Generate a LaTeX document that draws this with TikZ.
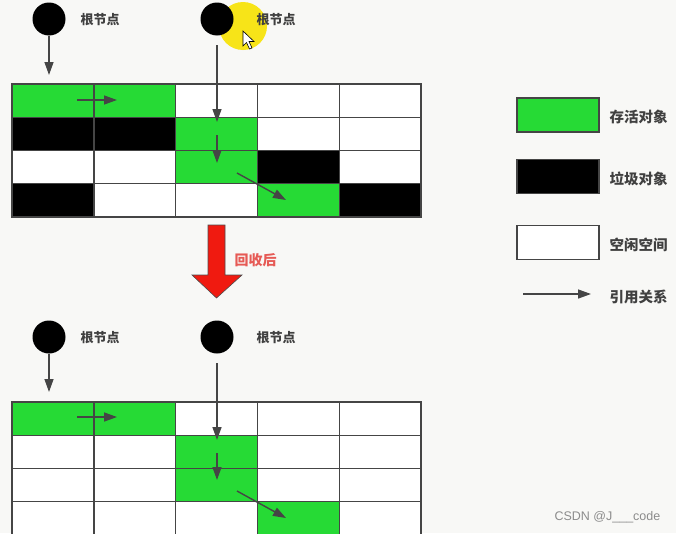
\documentclass[tikz,border=0pt]{standalone}
\usepackage{fontspec}
\newfontfamily\cjk{Noto Sans CJK SC}
\setsansfont{Liberation Sans}
\usetikzlibrary{arrows.meta}
\definecolor{cg}{HTML}{26DA35}
\definecolor{ck}{HTML}{000000}
\definecolor{cw}{HTML}{FFFFFF}
\definecolor{bgc}{HTML}{F8F8F6}
\definecolor{gridc}{HTML}{454545}
\definecolor{txtc}{HTML}{404040}
\definecolor{redc}{HTML}{F01A10}
\definecolor{redtxt}{HTML}{E65A55}
\definecolor{hl}{HTML}{F7E418}
\tikzset{
  cell/.style={draw=gridc, line width=1.4pt, minimum width=81.8pt, minimum height=33.2pt, inner sep=0pt, outer sep=0pt, anchor=north west},
  root/.style={circle, fill=black, minimum size=33pt, inner sep=0pt},
  rootlbl/.style={font=\cjk\bfseries\fontsize{13}{13}\selectfont, text=txtc},
  ref/.style={draw=gridc, line width=1.4pt, -{Triangle[length=13pt,width=9pt]}},
  legbox/.style={draw=gridc, line width=1.4pt, minimum width=82pt, minimum height=34pt, inner sep=0pt},
  leglbl/.style={font=\cjk\bfseries\fontsize{14.5}{14.5}\selectfont, text=txtc, anchor=west},
}
\begin{document}
\begin{tikzpicture}[x=1pt,y=-1pt]
\useasboundingbox (0,0) rectangle (676,533);
\fill[bgc] (0,0) rectangle (676,533);
% highlight
\fill[hl] (243,26) circle (24);
% top grid
\foreach \row [count=\i] in {{g,g,w,w,w},{k,k,g,w,w},{w,w,g,k,w},{k,w,w,g,k}}
  \foreach \c [count=\j] in \row
    \node[cell, fill=c\c] (t\i\j) at ({12+(\j-1)*81.8},{84+(\i-1)*33.2}) {};
% bottom grid
\foreach \row [count=\i] in {{g,g,w,w,w},{w,w,g,w,w},{w,w,g,w,w},{w,w,w,g,w}}
  \foreach \c [count=\j] in \row
    \node[cell, fill=c\c] (b\i\j) at ({12+(\j-1)*81.8},{402+(\i-1)*33.2}) {};
% roots top
\node[root] (r1) at (49,19) {};
\node[rootlbl] (l1) at (100,20) {根节点};
\node[root] (r2) at (217,19) {};
\node[rootlbl] (l2) at (276,20) {根节点};
% cursor
\filldraw[fill=white, draw=black, line width=0.6pt] (243,31) -- (243,46) -- (246.5,42.5) -- (249.5,49) -- (252,48) -- (249,41.5) -- (254,41.5) -- cycle;
% top references
\coordinate (ta1) at (49,75);
\coordinate (ta2s) at (217,45);
\coordinate (ta2) at (217,122);
\coordinate (ta3s) at (77,100);
\coordinate (ta3) at (117,100);
\coordinate (ta4s) at (217,135);
\coordinate (ta4) at (217,163);
\coordinate (ta5s) at (237,173);
\coordinate (ta5) at (286,200);
\draw[ref] (r1) -- (ta1);
\draw[ref] (ta2s) -- (ta2);
\draw[ref] (ta3s) -- (ta3);
\draw[ref] (ta4s) -- (ta4);
\draw[ref] (ta5s) -- (ta5);
% red arrow
\filldraw[fill=redc, draw=black!70, line width=0.6pt]
  (208,225) -- (225,225) -- (225,275) -- (242,275) -- (216.5,298) -- (192,275) -- (208,275) -- cycle;
\node[font=\cjk\bfseries\fontsize{14}{14}\selectfont, text=redtxt, anchor=west] (rc) at (231,260) {回收后};
% roots bottom
\node[root] (r3) at (49,337) {};
\node[rootlbl] (l3) at (100,338) {根节点};
\node[root] (r4) at (217,337) {};
\node[rootlbl] (l4) at (276,338) {根节点};
\coordinate (ba1) at (49,392);
\coordinate (ba2s) at (217,363);
\coordinate (ba2) at (217,440);
\coordinate (ba3s) at (77,417);
\coordinate (ba3) at (117,417);
\coordinate (ba4s) at (217,453);
\coordinate (ba4) at (217,480);
\coordinate (ba5s) at (237,491);
\coordinate (ba5) at (286,518);
\draw[ref] (r3) -- (ba1);
\draw[ref] (ba2s) -- (ba2);
\draw[ref] (ba3s) -- (ba3);
\draw[ref] (ba4s) -- (ba4);
\draw[ref] (ba5s) -- (ba5);
% legend
\node[legbox, fill=cg] (g1) at (558,115) {};
\node[leglbl] (g1t) at (606,117) {存活对象};
\node[legbox, fill=ck] (g2) at (558,176.5) {};
\node[leglbl] (g2t) at (606,179) {垃圾对象};
\node[legbox, fill=cw] (g3) at (558,242.5) {};
\node[leglbl] (g3t) at (606,245) {空闲空间};
\coordinate (g4s) at (523,294);
\coordinate (g4e) at (591,294);
\draw[ref] (g4s) -- (g4e);
\node[leglbl] (g4t) at (606,297) {引用关系};
% watermark
\node[font=\sffamily\fontsize{12.5}{12.5}\selectfont, text=black!45, anchor=west] (wm) at (551,517) {CSDN @J\_\_\_code};
\end{tikzpicture}
\end{document}
